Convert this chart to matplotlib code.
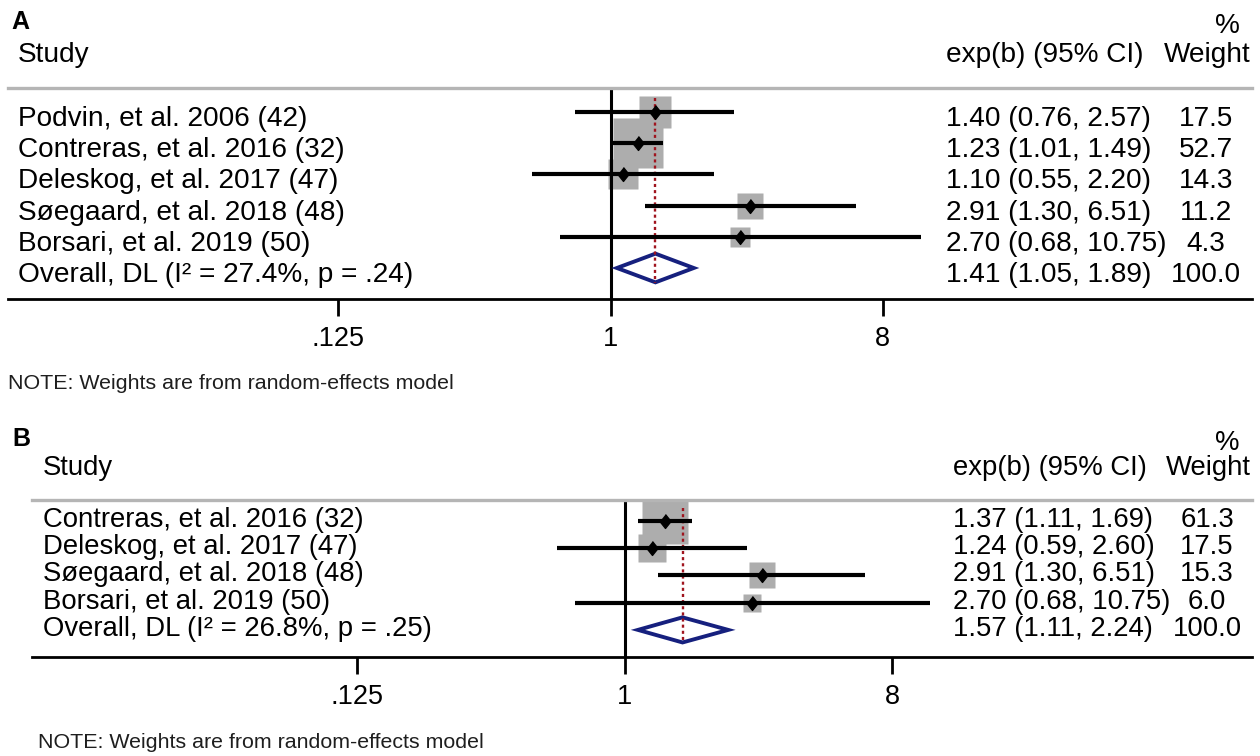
import numpy as np
import matplotlib
matplotlib.use("Agg")
import matplotlib.pyplot as plt
from matplotlib import transforms
from matplotlib.patches import Polygon
from matplotlib.ticker import NullLocator

plt.rcParams['font.family'] = ['Liberation Sans', 'DejaVu Sans']

W, H = 1260, 756

# --- panel A data ---
studies_a = ["Podvin, et al. 2006 (42)", "Contreras, et al. 2016 (32)",
             "Deleskog, et al. 2017 (47)", "Søegaard, et al. 2018 (48)",
             "Borsari, et al. 2019 (50)"]
est_a = [1.40, 1.23, 1.10, 2.91, 2.70]
low_a = [0.76, 1.01, 0.55, 1.30, 0.68]
high_a = [2.57, 1.49, 2.20, 6.51, 10.75]
weight_a = [17.5, 52.7, 14.3, 11.2, 4.3]
overall_a = [1.41, 1.05, 1.89]
i2_a = "27.4%"
p_a = ".24"

# --- panel B data ---
studies_b = ["Contreras, et al. 2016 (32)", "Deleskog, et al. 2017 (47)",
             "Søegaard, et al. 2018 (48)", "Borsari, et al. 2019 (50)"]
est_b = [1.37, 1.24, 2.91, 2.70]
low_b = [1.11, 0.59, 1.30, 0.68]
high_b = [1.69, 2.60, 6.51, 10.75]
weight_b = [61.3, 17.5, 15.3, 6.0]
overall_b = [1.57, 1.11, 2.24]
i2_b = "26.8%"
p_b = ".25"

tick_vals = [0.125, 1, 8]
tick_labels = [".125", "1", "8"]
note = "NOTE: Weights are from random-effects model"

fig = plt.figure(figsize=(W / 100, H / 100), dpi=100)


def fx(x):
    return x / W


def fy(y):
    return 1 - y / H


def panel(letter, studies, est, low, high, weight, overall, i2, p, lay):
    left, right, top, bottom = lay["box"]
    x1, ppu = lay["x1"], lay["ppu"]
    row0, sp = lay["row0"], lay["sp"]
    fs = lay["fs"]
    ax = fig.add_axes([fx(left), fy(bottom), fx(right - left), (bottom - top) / H])
    ax.set_xscale("log", base=2)
    ax.set_xlim(2 ** ((left - x1) / ppu), 2 ** ((right - x1) / ppu))
    ax.set_ylim((bottom - row0) / sp, (top - row0) / sp)

    n = len(studies)
    rows = np.arange(n)

    # weight boxes, side grows with sqrt(weight)
    for r, e, w in zip(rows, est, weight):
        side = (0.19 * np.sqrt(w) + 0.22) * sp * 72 / 100
        ax.plot([e], [r], marker="s", ms=side, color="#adadad", mec="none", zorder=2)

    ax.axvline(1, color="black", lw=2.2, zorder=2.5)

    g, glo, ghi = overall
    diam = Polygon([[glo, n], [g, n - 0.46], [ghi, n], [g, n + 0.46]], closed=True,
                   facecolor="white", edgecolor="#16207e", lw=2.8, zorder=3)
    ax.add_patch(diam)

    ax.plot([g, g], [-0.45, n + 0.48], color="#a0141e", lw=1.7, ls=(0, (1.3, 1.3)), zorder=4)

    for r, l, h in zip(rows, low, high):
        ax.plot([l, h], [r, r], color="black", lw=3.0, solid_capstyle="butt", zorder=5)
    ax.plot(est, rows, ls="none", marker=[(0, 1), (0.8, 0), (0, -1), (-0.8, 0)],
            ms=10, color="black", zorder=6)

    ax.set_xticks(tick_vals)
    ax.set_xticklabels(tick_labels)
    ax.xaxis.set_minor_locator(NullLocator())
    ax.tick_params(axis="x", direction="out", length=12.2, width=2.0, pad=7.2,
                   labelsize=lay["tfs"], colors="black")
    ax.set_yticks([])
    ax.spines["left"].set_visible(False)
    ax.spines["right"].set_visible(False)
    ax.spines["top"].set_color("#b5b5b5")
    ax.spines["top"].set_linewidth(2.4)
    ax.spines["bottom"].set_linewidth(2.0)
    ax.patch.set_alpha(0)

    # header texts
    fig.text(fx(lay["letter"][0]), fy(lay["letter"][1]), letter, fontsize=18,
             fontweight="bold", va="baseline")
    hy = lay["head_y"]
    fig.text(fx(lay["col_study"]), fy(hy), "Study", fontsize=fs, va="baseline")
    fig.text(fx(lay["col_ci"]), fy(hy), "exp(b) (95% CI)", fontsize=fs, va="baseline")
    fig.text(fx(1251), fy(hy), "Weight", fontsize=fs, va="baseline", ha="right")
    fig.text(fx(1240), fy(lay["pct_y"]), "%", fontsize=fs, va="baseline", ha="right")

    # row texts
    trans = transforms.blended_transform_factory(fig.transFigure, ax.transData)
    trans = transforms.offset_copy(trans, fig=fig, y=-lay["off"], units="dots")
    labels = studies + [f"Overall, DL (I\u00b2 = {i2}, p = {p})"]
    cis = [f"{e:.2f} ({l:.2f}, {h:.2f})" for e, l, h in zip(est, low, high)]
    cis.append(f"{g:.2f} ({glo:.2f}, {ghi:.2f})")
    wts = [f"{w:.1f}" for w in weight] + ["100.0"]
    for r in range(n + 1):
        ax.text(fx(lay["col_study"]), r, labels[r], transform=trans, fontsize=fs,
                va="baseline", clip_on=False)
        ax.text(fx(lay["col_ci"]), r, cis[r], transform=trans, fontsize=fs,
                va="baseline", clip_on=False)
        ax.text(fx(lay["col_w"]), r, wts[r], transform=trans, fontsize=fs,
                va="baseline", ha="center", clip_on=False)

    fig.text(fx(lay["note"][0]), fy(lay["note"][1]), note, fontsize=15.4,
             color="#1e1e1e", va="baseline")
    return ax


lay_a = dict(box=(8, 1252, 88, 299), x1=610.5, ppu=90.67, row0=112, sp=31.2,
             fs=20.2, tfs=19.5, letter=(11, 29), head_y=62, pct_y=33,
             col_study=18, col_ci=946, col_w=1206, off=14, note=(8, 389))
lay_b = dict(box=(32, 1252, 500, 657), x1=624.5, ppu=89.17, row0=520.7, sp=27.3,
             fs=19.8, tfs=19.5, letter=(12, 446), head_y=475, pct_y=450,
             col_study=43, col_ci=953, col_w=1207, off=6, note=(38, 748))

panel("A", studies_a, est_a, low_a, high_a, weight_a, overall_a, i2_a, p_a, lay_a)
panel("B", studies_b, est_b, low_b, high_b, weight_b, overall_b, i2_b, p_b, lay_b)

fig.savefig("out.png", dpi=100)
